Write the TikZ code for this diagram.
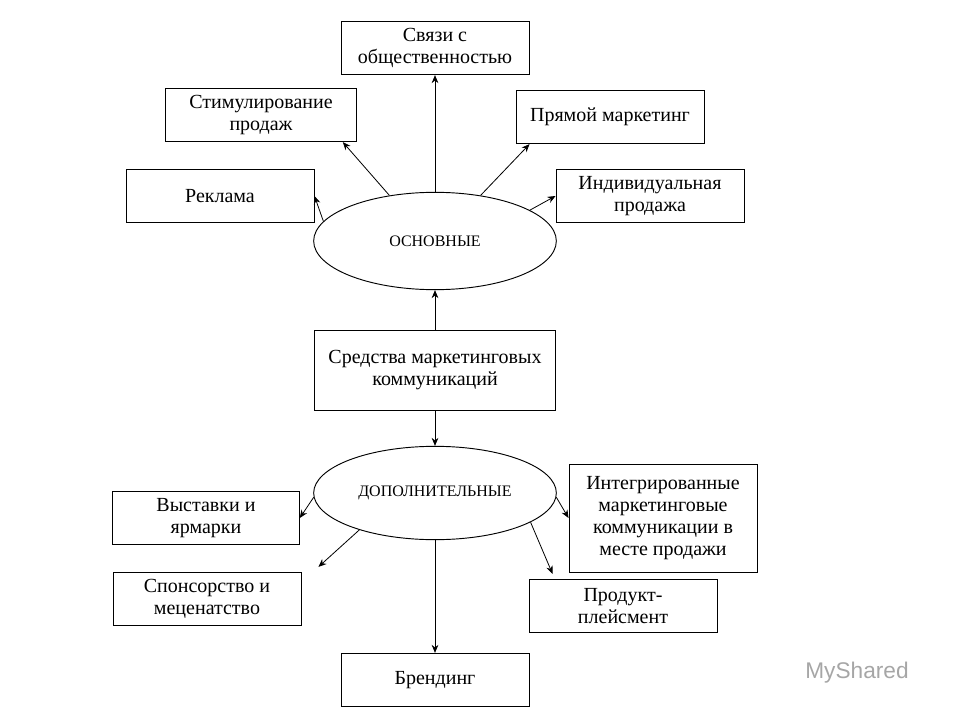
\documentclass[tikz,border=0pt]{standalone}
\usepackage{fontspec}
\setmainfont{Liberation Serif}
\newfontfamily\logofont{Liberation Sans}
\usetikzlibrary{shapes.geometric,arrows.meta,calc}
\begin{document}
\begin{tikzpicture}[x=0.75pt,y=-0.75pt,
  bx/.style={draw,line width=0.7pt,align=center,font=\fontsize{15}{16.5}\selectfont,inner sep=0pt},
  el/.style={draw,ellipse,line width=0.7pt,inner sep=0pt,font=\fontsize{12}{14}\selectfont},
  ar/.style={-{Stealth[length=6pt,width=5pt]},line width=0.6pt}]
\useasboundingbox (0,0) rectangle (960,720);
\node[bx,minimum width=141pt,minimum height=40pt] (svz) at (435,48) {Связи с\\общественностью};
\node[bx,minimum width=143pt,minimum height=40pt] (stim) at (261,115) {Стимулирование\\продаж};
\node[bx,minimum width=141pt,minimum height=40pt] (pryam) at (610,117) {Прямой маркетинг};
\node[bx,minimum width=141pt,minimum height=40pt] (rekl) at (220,196) {Реклама};
\node[bx,minimum width=141pt,minimum height=40pt] (ind) at (650,196) {Индивидуальная\\продажа};
\node[el,minimum width=182pt,minimum height=73pt] (osn) at (435,241) {ОСНОВНЫЕ};
\node[bx,minimum width=181pt,minimum height=60pt] (sred) at (435,370) {Средства маркетинговых\\коммуникаций};
\node[el,minimum width=182pt,minimum height=70pt] (dop) at (435,493) {ДОПОЛНИТЕЛЬНЫЕ};
\node[bx,minimum width=140pt,minimum height=40pt] (vyst) at (206,518) {Выставки и\\ярмарки};
\node[bx,minimum width=141pt,minimum height=81pt] (integ) at (663,518) {Интегрированные\\маркетинговые\\коммуникации в\\месте продажи};
\node[bx,minimum width=141pt,minimum height=40pt] (spons) at (207,599) {Спонсорство и\\меценатство};
\node[bx,minimum width=141pt,minimum height=40pt] (prod) at (623,606) {Продукт-\\плейсмент};
\node[bx,minimum width=141pt,minimum height=40pt] (brend) at (435,680) {Брендинг};
\draw[ar] (osn.north) -- (svz.south);
\draw[ar] (osn.135) -- ($(stim.south east)+(-14,0)$);
\draw[ar] (osn.45) -- ($(pryam.south west)+(14,0)$);
\draw[ar] (osn.170) -- (rekl.east);
\draw[ar] (osn.18) -- (ind.west);
\draw[ar] (sred.north) -- (osn.south);
\draw[ar] (sred.south) -- (dop.north);
\draw[ar] (dop.182) -- (vyst.east);
\draw[ar] (dop.358) -- (integ.west);
\draw[ar] (dop.206) -- ($(spons.north east)+(17,-5)$);
\draw[ar] (dop.343) -- ($(prod.north west)+(24,-5)$);
\draw[ar] (dop.south) -- (brend.north);
\node[font=\logofont\fontsize{17}{20}\selectfont,text=gray!70] (logo) at (857,673) {MyShared};
\end{tikzpicture}
\end{document}
